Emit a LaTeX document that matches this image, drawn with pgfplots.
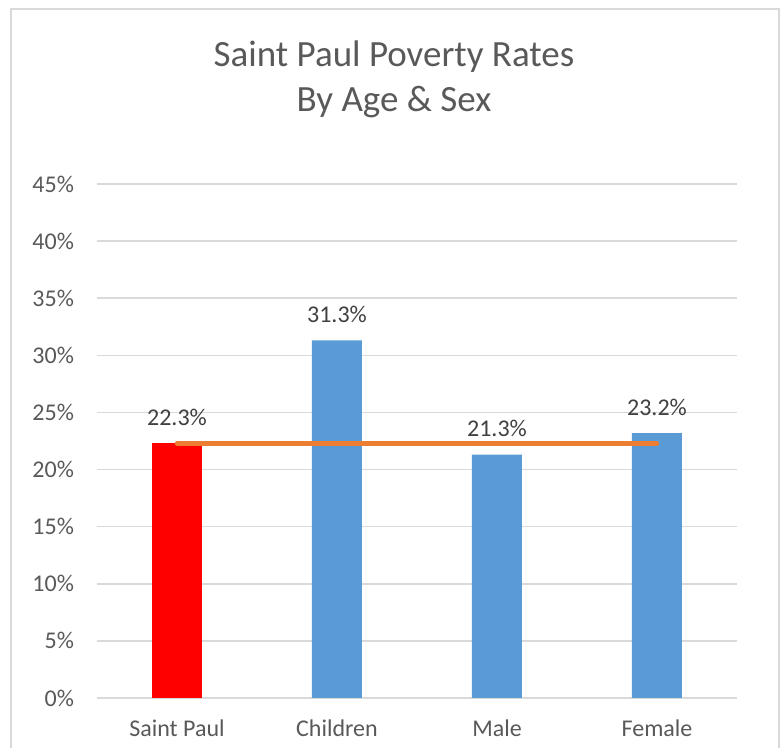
\documentclass[border=0pt]{standalone}
\usepackage{fontspec}
\setmainfont{Carlito}
\usepackage{pgfplots}
\pgfplotsset{compat=1.18}
\definecolor{bluebar}{HTML}{5B9BD5}
\definecolor{linecol}{HTML}{ED7D31}
\definecolor{gridgray}{HTML}{D9D9D9}
\definecolor{textgray}{HTML}{595959}
\definecolor{labelgray}{HTML}{404040}

\begin{document}
\begin{tikzpicture}
  \useasboundingbox (0,0) rectangle (392pt,-374pt);
  % chart frame (runs off the bottom)
  \draw[gridgray, line width=1pt] (5.5pt,-4.5pt) rectangle (389.5pt,-390pt);
  % title
  \node[anchor=base, text=textgray, font=\fontsize{18.5}{22}\selectfont, inner sep=0pt]
    at (197pt,-33.5pt) {Saint Paul Poverty Rates};
  \node[anchor=base, text=textgray, font=\fontsize{18.5}{22}\selectfont, inner sep=0pt]
    at (197pt,-56pt) {By Age \& Sex};
  \begin{axis}[
    at={(48.5pt,-349pt)}, anchor=south west,
    scale only axis, width=320pt, height=257pt,
    xmin=-0.5, xmax=3.5, ymin=0, ymax=45,
    ytick={0,5,...,45}, yticklabel={\pgfmathprintnumber{\tick}\%},
    xtick={0,1,2,3}, xticklabels={Saint Paul,Children,Male,Female},
    axis line style={draw=none}, major tick length=0pt,
    ymajorgrids, grid style={gridgray, line width=0.75pt},
    tick label style={font=\fontsize{12}{14}\selectfont, text=textgray},
    y tick label style={xshift=-8pt},
    x tick label style={anchor=base, yshift=-19.5pt},
    /pgf/number format/assume math mode=true,
    nodes near coords={\pgfmathprintnumber[fixed,fixed zerofill,precision=1]{\pgfplotspointmeta}\%},
    every node near coord/.append style={anchor=base, yshift=9pt, inner sep=0pt,
      font=\fontsize{12}{14}\selectfont, text=labelgray},
    clip=false,
  ]
    \addplot[ybar, bar width=25pt, bar shift=0pt, fill=red, draw=none]
      coordinates {(0,22.3)};
    \addplot[ybar, bar width=25pt, bar shift=0pt, fill=bluebar, draw=none]
      coordinates {(1,31.3) (2,21.3) (3,23.2)};
    % city-wide rate
    \addplot[sharp plot, no marks, linecol, line width=2.25pt, line cap=round, nodes near coords=]
      coordinates {(0,22.3) (1,22.3) (2,22.3) (3,22.3)};
  \end{axis}
\end{tikzpicture}
\end{document}
